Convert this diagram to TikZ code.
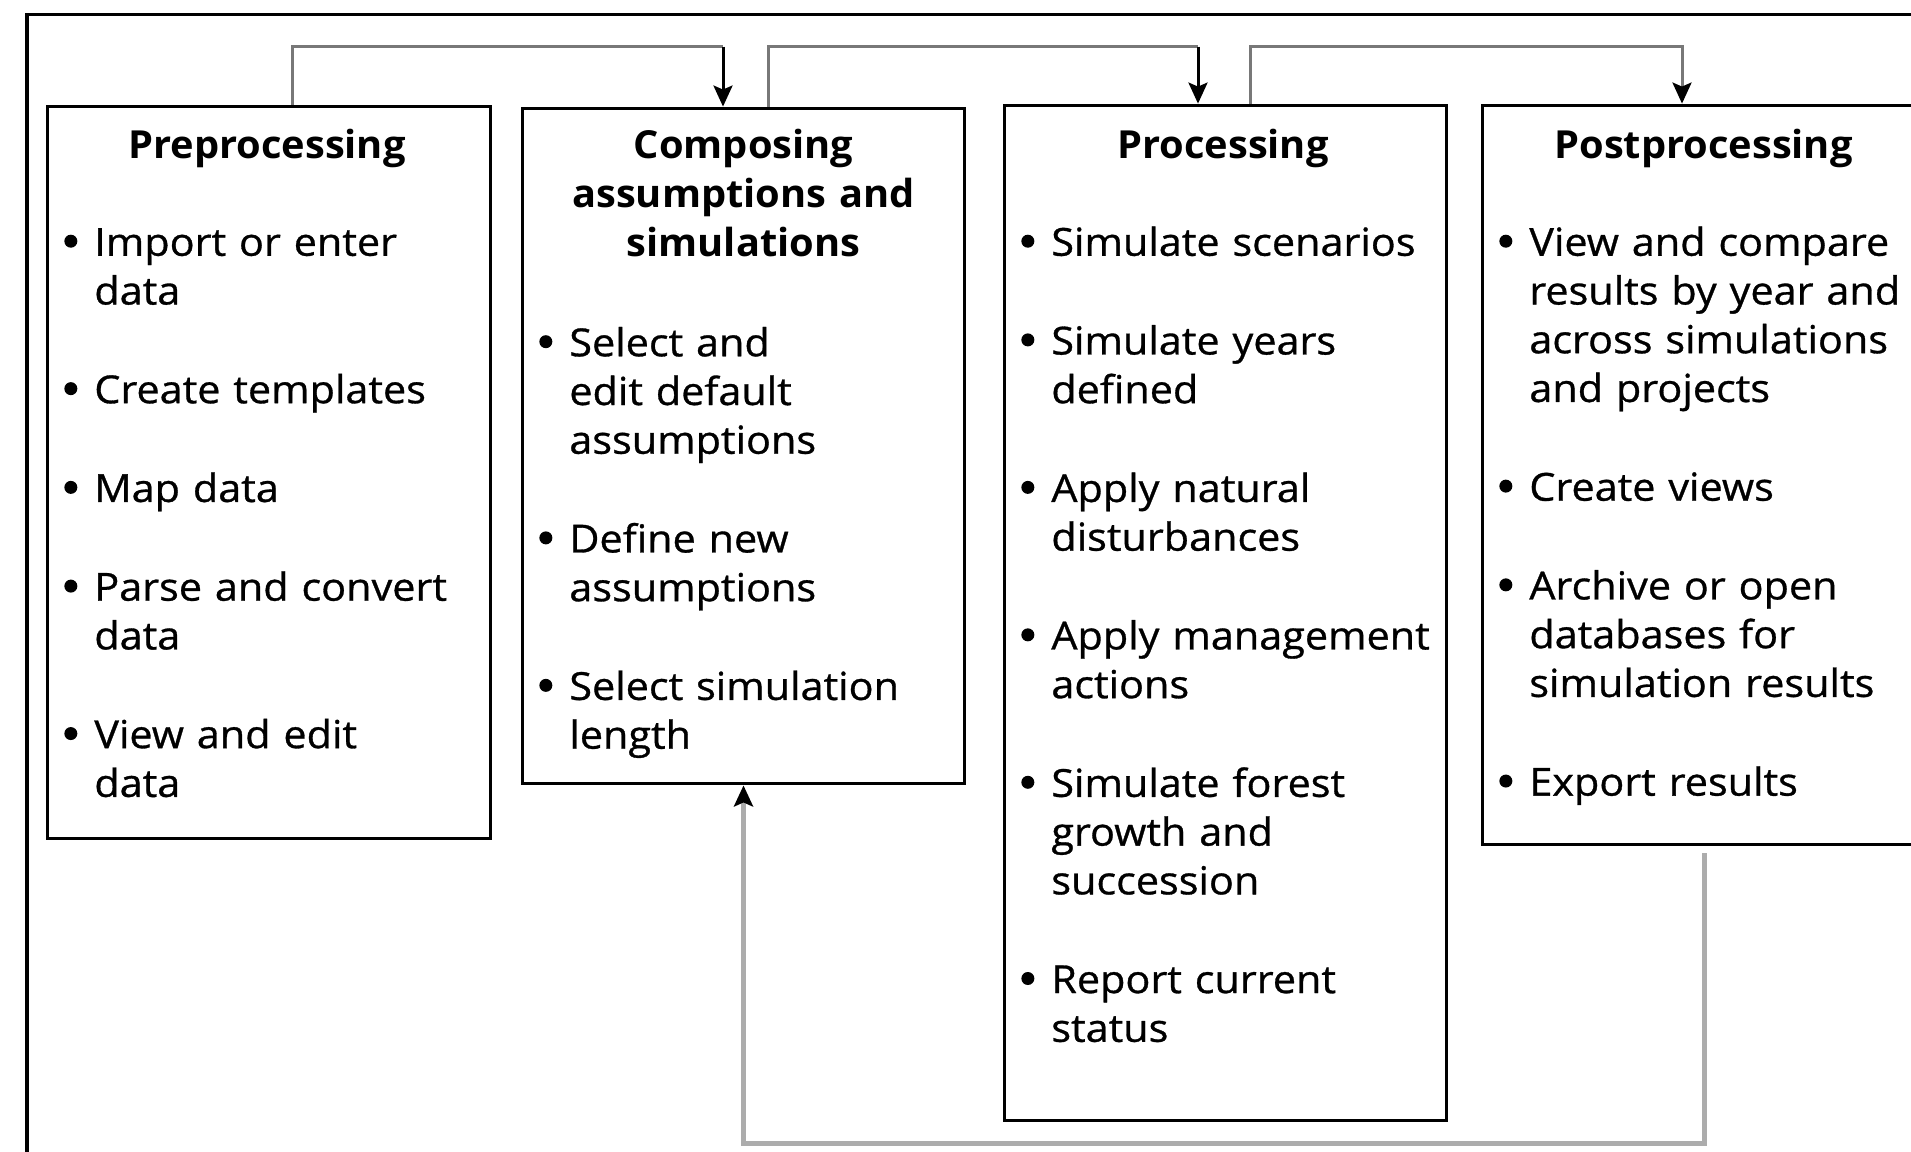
\documentclass[tikz,border=0pt]{standalone}
\usepackage{fontspec}
\setmainfont{Open Sans}[FakeStretch=1.07,FakeBold=0.8]
\newfontfamily\ttlfont{Open Sans}[FakeStretch=1.03]
\usetikzlibrary{arrows.meta,calc}
\definecolor{lnkdark}{RGB}{120,120,120}
\definecolor{lnklight}{RGB}{172,172,172}
\newcommand{\mybul}{\makebox[0.94cm][c]{\tikz[baseline=0pt]\fill[black] (0pt,8.3pt) circle[radius=3.7pt];}}
\newcommand{\myind}{\hspace*{0.94cm}}
\newcommand{\igap}{1.0cm}
\tikzset{
  box/.style={draw, rectangle, line width=0.06cm, inner sep=0pt, minimum width=8.86cm},
  bodytxt/.style={anchor=north west, inner sep=0pt, text width=10cm, align=left,
    font={\fontsize{22}{27.74}\selectfont\parindent=0pt}},
  titletxt/.style={anchor=north, inner sep=0pt, text width=8.8cm, align=center,
    font={\ttlfont\bfseries\fontsize{22}{27.74}\selectfont\parindent=0pt}},
  gline/.style={line width=0.06cm, draw=lnkdark},
  bline/.style={line width=0.06cm, draw=black},
  lline/.style={line width=0.09cm, draw=lnklight},
  tip/.style={-{Stealth[length=0.42cm,width=0.38cm,inset=0.08cm,black]}}
}
\begin{document}
\begin{tikzpicture}[x=0.02cm,y=-0.02cm]
\useasboundingbox (0,0) rectangle (1911,1152);
\clip (0,0) rectangle (1911,1152);
% outer frame
\draw[line width=0.07cm] (27,14.5) rectangle (1980,1200);

% boxes
\node[box, minimum width=8.88cm, minimum height=14.66cm] (pre)  at (269,472.5) {};
\node[box, minimum height=13.52cm] (comp) at (743.5,446) {};
\node[box, minimum height=20.32cm] (proc) at (1225.5,613) {};
\node[box, minimum height=14.80cm] (post) at (1703.5,475) {};

% titles
\node[titletxt] (preT)  at (267,124.3)   {\strut Preprocessing};
\node[titletxt] (compT) at (743.5,124.3) {\strut Composing\\assumptions and\\simulations};
\node[titletxt] (procT) at (1223,124.3) {\strut Processing};
\node[titletxt] (postT) at (1703.5,124.3) {\strut Postprocessing};

% bodies
\node[bodytxt] (preB) at (47,221.3) {\strut\mybul Import or enter\\
\myind data\\[\igap]
\mybul Create templates\\[\igap]
\mybul Map data\\[\igap]
\mybul Parse and convert\\
\myind data\\[\igap]
\mybul View and edit\\
\myind data};

\node[bodytxt] (compB) at (522,321.8) {\strut\mybul Select and\\
\myind edit default\\
\myind assumptions\\[\igap]
\mybul Define new\\
\myind assumptions\\[\igap]
\mybul Select simulation\\
\myind length};

\node[bodytxt] (procB) at (1004,221.3) {\strut\mybul Simulate scenarios\\[\igap]
\mybul Simulate years\\
\myind defined\\[\igap]
\mybul Apply natural\\
\myind disturbances\\[\igap]
\mybul Apply management\\
\myind actions\\[\igap]
\mybul Simulate forest\\
\myind growth and\\
\myind succession\\[\igap]
\mybul Report current\\
\myind status};

\node[bodytxt] (postB) at (1482,221.3) {\strut\mybul View and compare\\
\myind results by year and\\
\myind across simulations\\
\myind and projects\\[\igap]
\mybul Create views\\[\igap]
\mybul Archive or open\\
\myind databases for\\
\myind simulation results\\[\igap]
\mybul Export results};

% top connectors
\coordinate (t1) at (723,46.7);
\coordinate (t2) at (1198,46.7);
\coordinate (t3) at (1682,46.7);
\draw[gline] ($(pre.north)+(23,0)$) |- (t1);
\draw[bline,tip] (t1) -- (t1 |- comp.north);
\draw[gline] ($(comp.north)+(25,0)$) |- (t2);
\draw[bline,tip] (t2) -- (t2 |- proc.north);
\draw[gline,tip] ($(proc.north)+(25,0)$) |- (t3) -- (t3 |- post.north);

% bottom feedback connector
\draw[lline,tip] ($(post.south)+(1,7)$) |- ($(comp.south)+(0,358)$) -- (comp.south);
\end{tikzpicture}
\end{document}
